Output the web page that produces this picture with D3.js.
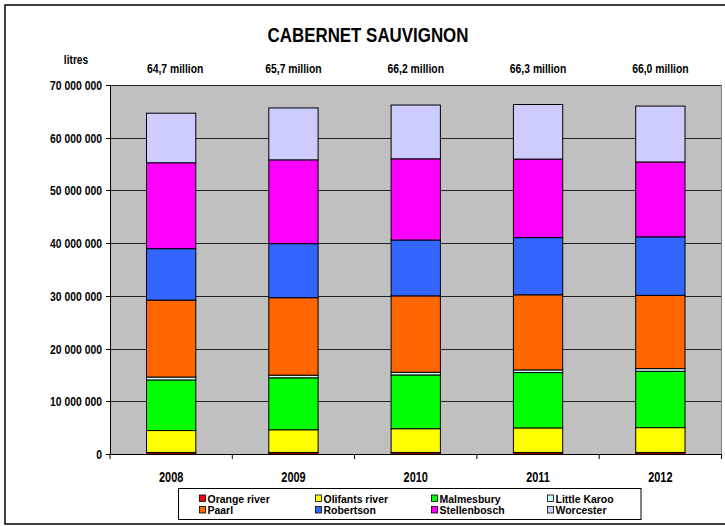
<!DOCTYPE html>
<html>
<head>
<meta charset="utf-8">
<script src="https://cdn.jsdelivr.net/npm/d3@7"></script>
<style>
html,body{margin:0;padding:0;background:#fff;}
text{font-family:"Liberation Sans",Arial,sans-serif;font-weight:bold;fill:#000;}
</style>
</head>
<body>
<svg id="chart" width="725" height="526"></svg>
<script>
// ---- data ----
const years = ["2008", "2009", "2010", "2011", "2012"];
const regions = ["Orange river", "Olifants river", "Malmesbury", "Little Karoo", "Paarl", "Robertson", "Stellenbosch", "Worcester"];
const colors = ["#FF0000", "#FFFF00", "#00FF00", "#CCFFFF", "#FF6600", "#3366FF", "#FF00FF", "#CCCCFF"];
// values in million litres, one array per region (2008..2012)
const orangeRiver   = [0.3, 0.3, 0.3, 0.3, 0.3];
const olifantsRiver = [4.15, 4.3, 4.5, 4.65, 4.7];
const malmesbury    = [9.6, 9.85, 10.2, 10.5, 10.7];
const littleKaroo   = [0.55, 0.5, 0.5, 0.5, 0.5];
const paarl         = [14.6, 14.7, 14.5, 14.25, 13.9];
const robertson     = [9.75, 10.25, 10.6, 10.85, 11.1];
const stellenbosch  = [16.3, 15.9, 15.4, 14.9, 14.2];
const worcester     = [9.4, 9.85, 10.2, 10.35, 10.6];
const totalLabels = ["64,7 million", "65,7 million", "66,2 million", "66,3 million", "66,0 million"];
const yTicks = [0, 10000000, 20000000, 30000000, 40000000, 50000000, 60000000, 70000000];
const title = "CABERNET SAUVIGNON";
const yUnit = "litres";

const seriesValues = [orangeRiver, olifantsRiver, malmesbury, littleKaroo, paarl, robertson, stellenbosch, worcester];
const table = years.map((yr, i) => {
  const row = {year: yr};
  regions.forEach((r, k) => row[r] = seriesValues[k][i] * 1e6);
  return row;
});

// ---- layout ----
const svg = d3.select("#chart");
const pL = 110, pR = 721.5, pT = 85, pB = 454;

const x = d3.scaleBand().domain(years).range([pL, pR]).paddingInner(0.597).paddingOuter(0.2985);
const y = d3.scaleLinear().domain([0, 70000000]).range([pB, pT]);

// condensed text helper (original uses a narrow bold face)
function put(parent, str, px, py, size, anchor, f) {
  const g = parent.append("g").attr("transform", `translate(${px},${py}) scale(${f},1)`);
  return g.append("text").attr("x", 0).attr("y", 0).attr("font-size", size).attr("text-anchor", anchor).text(str);
}

// outer border
svg.append("rect").attr("x", 5).attr("y", 5).attr("width", 730).attr("height", 519)
  .attr("fill", "#fff").attr("stroke", "#000").attr("stroke-width", 1.5);

// plot background
svg.append("rect").attr("x", pL).attr("y", pT).attr("width", pR - pL).attr("height", pB - pT)
  .attr("fill", "#C0C0C0");

// grid lines
svg.append("g").selectAll("line").data(yTicks.filter(d => d > 0)).join("line")
  .attr("x1", pL).attr("x2", pR)
  .attr("y1", d => Math.round(y(d)) + 0.5).attr("y2", d => Math.round(y(d)) + 0.5)
  .attr("stroke", "#222").attr("stroke-width", 1);

// right edge of plot
svg.append("line").attr("x1", pR).attr("x2", pR).attr("y1", pT).attr("y2", pB + 4)
  .attr("stroke", "#808080").attr("stroke-width", 1);

// stacked bars
const stack = d3.stack().keys(regions);
const layers = stack(table);
svg.append("g").selectAll("g").data(layers).join("g")
  .attr("fill", (d, i) => colors[i])
  .selectAll("rect").data(d => d).join("rect")
  .attr("x", d => x(d.data.year))
  .attr("width", x.bandwidth())
  .attr("y", d => y(d[1]))
  .attr("height", d => Math.max(0, y(d[0]) - y(d[1])))
  .attr("stroke", "#000").attr("stroke-width", 1);

// y axis
const yAxisG = svg.append("g");
yAxisG.append("line").attr("x1", pL + 0.5).attr("x2", pL + 0.5).attr("y1", pT).attr("y2", pB + 0.5)
  .attr("stroke", "#000");
const fmt = d => d3.format(",")(d).replace(/,/g, " ");
yTicks.forEach(t => {
  const yy = Math.round(y(t)) + 0.5;
  yAxisG.append("line").attr("x1", pL - 4).attr("x2", pL).attr("y1", yy).attr("y2", yy).attr("stroke", "#000");
  put(yAxisG, fmt(t), pL - 8, yy + 4.5, 13, "end", 0.8);
});

// x axis
const xAxisG = svg.append("g");
xAxisG.append("line").attr("x1", pL).attr("x2", pR).attr("y1", pB + 0.5).attr("y2", pB + 0.5)
  .attr("stroke", "#000");
const bounds = years.map(yr => x(yr) + x.bandwidth() / 2 - x.step() / 2).concat([pR]);
bounds.forEach(b => {
  xAxisG.append("line").attr("x1", b).attr("x2", b).attr("y1", pB).attr("y2", pB + 5).attr("stroke", "#000");
});
years.forEach(yr => {
  put(xAxisG, yr, x(yr) + x.bandwidth() / 2, 481.5, 14, "middle", 0.78);
});

// totals above bars
years.forEach((yr, i) => {
  put(svg, totalLabels[i], x(yr) + x.bandwidth() / 2 + (i === 0 ? 4 : 0), 73, 12.5, "middle", 0.83);
});

// title and unit
put(svg, title, 368, 41.7, 21, "middle", 0.805);
put(svg, yUnit, 76, 63.5, 12, "middle", 0.85);

// legend
const lg = svg.append("g");
lg.append("rect").attr("x", 178.5).attr("y", 488.5).attr("width", 462.5).attr("height", 31)
  .attr("fill", "#fff").attr("stroke", "#000").attr("stroke-width", 1);
regions.forEach((r, i) => {
  const col = i % 4, row = Math.floor(i / 4);
  const lx = 199.5 + col * 116, ly = 495 + row * 11.5;
  lg.append("rect").attr("x", lx).attr("y", ly).attr("width", 6).attr("height", 6.5)
    .attr("fill", colors[i]).attr("stroke", "#000").attr("stroke-width", 0.8);
  put(lg, r, lx + 8, ly + 7.6, 10.8, "start", 0.97);
});
</script>
</body>
</html>
